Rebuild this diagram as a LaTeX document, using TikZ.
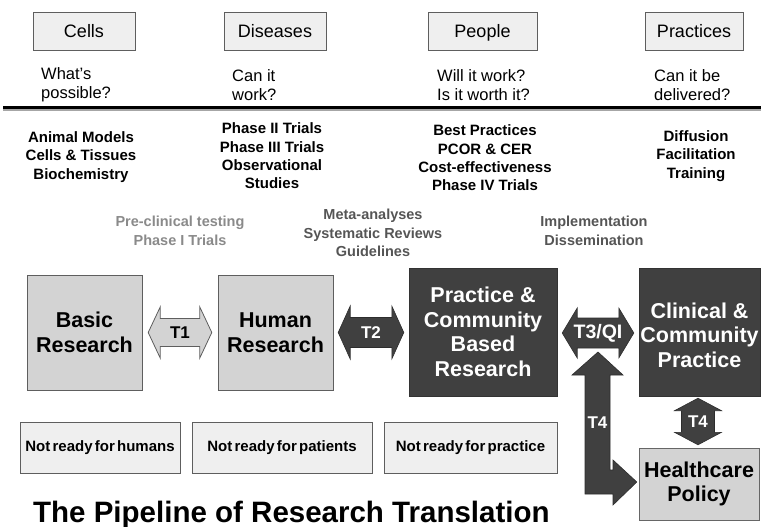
\documentclass[tikz,border=0pt]{standalone}
\usepackage{fontspec}
\setmainfont{Liberation Sans}
\usetikzlibrary{calc}
\definecolor{darkbox}{HTML}{404040}
\definecolor{lightbox}{HTML}{D3D3D3}
\definecolor{paleb}{HTML}{EFEFEF}
\definecolor{edgec}{HTML}{5E5E5E}
\definecolor{pregray}{HTML}{8A8A8A}
\definecolor{midgray}{HTML}{555555}
\newcommand\fs[2]{\fontsize{#1}{#2}\selectfont}
\newcommand\tightspace{\spaceskip=0.15em\relax}
\newcommand\hdblarrow[6]{%
  \path[#1] let \p1=(#2), \p2=(#3) in
    (\x1,\y1) -- (\x1+#6pt,\y1+#5pt) -- (\x1+#6pt,\y1+#4pt) -- (\x2-#6pt,\y1+#4pt) -- (\x2-#6pt,\y1+#5pt)
    -- (\x2,\y1) -- (\x2-#6pt,\y1-#5pt) -- (\x2-#6pt,\y1-#4pt) -- (\x1+#6pt,\y1-#4pt) -- (\x1+#6pt,\y1-#5pt) -- cycle;}
\newcommand\vdblarrow[6]{%
  \path[#1] let \p1=(#2), \p2=(#3) in
    (\x1,\y1) -- (\x1+#5pt,\y1-#6pt) -- (\x1+#4pt,\y1-#6pt) -- (\x1+#4pt,\y2+#6pt) -- (\x1+#5pt,\y2+#6pt)
    -- (\x1,\y2) -- (\x1-#5pt,\y2+#6pt) -- (\x1-#4pt,\y2+#6pt) -- (\x1-#4pt,\y1-#6pt) -- (\x1-#5pt,\y1-#6pt) -- cycle;}
\begin{document}
\begin{tikzpicture}[x=1pt,y=-1pt,
  topbox/.style={draw=edgec,fill=paleb,minimum height=38pt,inner sep=0pt,text height=14pt,text depth=0pt,font=\fs{18}{20}},
  qtext/.style={anchor=west,align=left,inner sep=0pt,font=\fs{16.5}{19}},
  blist/.style={align=center,inner sep=0pt,font=\fs{15}{18.3}\bfseries},
  glist/.style={align=center,inner sep=0pt,font=\fs{14.5}{18.5}\bfseries},
  lbox/.style={draw=edgec,fill=lightbox,align=center,inner sep=0pt,font=\fs{21.5}{24.5}\bfseries},
  dbox/.style={draw=darkbox!80!black,fill=darkbox,text=white,align=center,inner sep=0pt,font=\fs{21.5}{24.5}\bfseries},
  nrbox/.style={draw=edgec,fill=paleb,minimum height=51pt,inner sep=0pt,font=\fs{15}{16}\bfseries},
  darrow/.style={fill=darkbox,draw=darkbox!70!black,line width=0.6pt},
  larrow/.style={fill=lightbox,draw=edgec,line width=0.8pt},
  tlab/.style={inner sep=0pt,font=\fs{17}{19}\bfseries}
]
\useasboundingbox (0,0) rectangle (761,527);
% top category boxes
\node[topbox,minimum width=102pt] (cells) at (84,31) {Cells};
\node[topbox,minimum width=102pt] (diseases) at (275,31) {Diseases};
\node[topbox,minimum width=109pt] (people) at (482.5,31) {People};
\node[topbox,minimum width=98pt] (practices) at (694,31) {Practices};
% questions
\node[qtext] (q1) at (41,85) {What’s\\possible?};
\node[qtext] (q2) at (232,85) {Can it\\work?};
\node[qtext] (q3) at (437,85) {Will it work?\\Is it worth it?};
\node[qtext] (q4) at (654,85) {Can it be\\delivered?};
% divider
\draw[line width=2pt,black!35] (3,110) -- (761,110);
\draw[line width=2.4pt,black] (3,107.5) -- (761,107.5);
% bold lists
\node[blist] (l1) at (81,157) {Animal Models\\Cells \& Tissues\\Biochemistry};
\node[blist] (l2) at (272,156) {Phase II Trials\\Phase III Trials\\Observational\\Studies};
\node[blist] (l3) at (485,158) {Best Practices\\PCOR \& CER\\Cost-effectiveness\\Phase IV Trials};
\node[blist] (l4) at (696,156) {Diffusion\\Facilitation\\Training};
% gray lists
\node[glist,text=pregray] (g1) at (180,231) {Pre-clinical testing\\Phase I Trials};
\node[glist,text=midgray] (g2) at (373,233) {Meta-analyses\\Systematic Reviews\\Guidelines};
\node[glist,text=midgray] (g3) at (594,231) {Implementation\\Dissemination};
% main boxes
\node[lbox,minimum width=115pt,minimum height=115pt] (basic) at (84.5,332.5) {Basic\\Research};
\node[lbox,minimum width=115pt,minimum height=115pt] (human) at (275.5,332.5) {Human\\Research};
\node[dbox,minimum width=148pt,minimum height=128pt] (pcbr) at (483,332) {Practice \&\\Community\\Based\\Research};
\node[dbox,minimum width=121pt,minimum height=128pt] (clin) at (699.5,332) {};
\node[inner sep=0pt,align=center,text=white,font=\fs{21.5}{24.5}\bfseries] (clintext) at (699.5,335) {Clinical \&\\Community\\Practice};
\node[lbox,draw=darkbox!80,minimum width=120pt,minimum height=72pt] (policy) at (699,484) {Healthcare\\Policy};
% not ready boxes
\node[nrbox,minimum width=160pt] (nr1) at (100,447.5) {\tightspace Not ready for humans};
\node[nrbox,minimum width=180pt] (nr2) at (282,447.5) {\tightspace Not ready for patients};
\node[nrbox,minimum width=173pt] (nr3) at (470.5,447.5) {\tightspace Not ready for practice};
% translation arrows
\coordinate (t1a) at ($(basic.east)+(6,0)$);
\coordinate (t1b) at ($(human.west)+(-6,0)$);
\hdblarrow{larrow}{t1a}{t1b}{14}{25.5}{12}
\node[tlab] (t1) at ($(t1a)!0.5!(t1b)$) {T1};
\coordinate (t2a) at ($(human.east)+(5,0)$);
\coordinate (t2b) at ($(pcbr.west)+(-5,0.5)$);
\hdblarrow{darrow}{t2a}{t2b}{15}{26.5}{12}
\node[tlab,text=white] (t2) at ($(t2a)!0.5!(t2b)$) {T2};
\coordinate (t3a) at ($(pcbr.east)+(5,1)$);
\coordinate (t3b) at ($(clin.west)+(-5,1)$);
\hdblarrow{darrow}{t3a}{t3b}{15}{25}{15}
\node[tlab,text=white,font=\fs{19.5}{21}\bfseries] (t3) at ($(t3a)!0.5!(t3b)$) {T3/QI};
\coordinate (t4a) at ($(clin.south)+(-1.5,2)$);
\coordinate (t4b) at ($(policy.north)+(-1,-3)$);
\vdblarrow{darrow}{t4a}{t4b}{16.5}{23.5}{12.5}
\node[tlab,text=white] (t4r) at ($(t4a)!0.5!(t4b)$) {T4};
% bent T4 arrow from T3 to policy
\coordinate (bt) at (598,352);
\coordinate (btip) at ($(policy.west)+(-2,-2)$);
\path[darrow] (bt) -- (623,375) -- (610,375) -- (610,470) -- (613,470) -- (613,460)
  -- (btip) -- (613,505) -- (613,494) -- (585,494) -- (585,375) -- (572,375) -- cycle;
\node[tlab,text=white] (t4l) at (597.5,423) {T4};
% title
\node[anchor=base west,inner sep=0pt,font=\fs{29.5}{32}\bfseries] (title) at (33,522) {The Pipeline of Research Translation};
\end{tikzpicture}
\end{document}
